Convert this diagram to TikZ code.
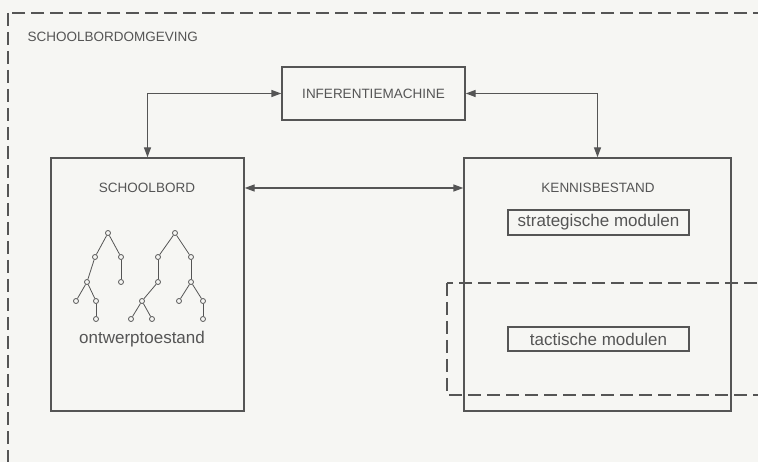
\documentclass[tikz,border=0pt]{standalone}
\usepackage{fontspec}
\setmainfont{Liberation Sans}
\usepackage{tikz}
\usetikzlibrary{arrows.meta, positioning}
\usepackage{xcolor}
\definecolor{inkt}{HTML}{555555}
\definecolor{papier}{HTML}{F6F6F3}

\tikzset{
  blok/.style={draw=inkt, line width=1.4pt, rectangle, inner sep=0pt},
  kop/.style={text=inkt, font=\fontsize{13.5}{15}\selectfont},
  tekst/.style={text=inkt, font=\fontsize{17}{19}\selectfont},
  knoop/.style={draw=inkt, circle, line width=0.8pt, minimum size=5pt, inner sep=0pt},
  pijl/.style={draw=inkt, line width=1.4pt, {Triangle[length=10pt,width=7pt]}-{Triangle[length=10pt,width=7pt]}},
  stippel/.style={draw=inkt, line width=1.2pt, dash pattern=on 13pt off 6pt}
}

\begin{document}
\begin{tikzpicture}[x=1pt, y=-1pt]
  \useasboundingbox (0,0) rectangle (758,462);
  \fill[papier] (0,0) rectangle (758,462);
  \clip (0,0) rectangle (758,462);

  % omgeving
  \draw[stippel] (8,13) rectangle (775,480);
  \node[kop, anchor=west] (omg) at (24,37) {SCHOOLBORDOMGEVING};

  % blokken
  \node[blok, minimum width=183pt, minimum height=53pt] (machine) at (373.5,93.5) {};
  \node[kop] at (machine) {INFERENTIEMACHINE};
  \node[blok, minimum width=193pt, minimum height=253pt] (bord) at (147.5,284.5) {};
  \node[blok, minimum width=267pt, minimum height=253pt] (kennis) at (597.5,284.5) {};
  \node[kop] (bordkop) at (147,188) {SCHOOLBORD};
  \node[kop] (kenniskop) at (598,188) {KENNISBESTAND};
  \node[blok, line width=1.1pt, minimum width=181pt, minimum height=25pt, tekst] (strat) at (598.5,222.5) {strategische modulen};
  \node[blok, line width=1.1pt, minimum width=181pt, minimum height=24pt, tekst] (tact) at (598.5,339) {tactische modulen};
  \draw[stippel] (447,283) rectangle (775,395);

  % verbindingen
  \draw[pijl] (bord.north) |- (machine.west);
  \draw[pijl] (machine.east) -| (kennis.north);
  \draw[pijl] (bord.east |- bordkop) -- (kennis.west |- bordkop);

  % ontwerptoestand: twee bomen
  \foreach \n/\x/\y in {a1/108/233, a2/95/257, a3/121/257, a4/87/282, a5/121/282,
                        a6/76/301, a7/96/301, a8/96/319,
                        b1/175/233, b2/158/257, b3/191/257, b4/158/282, b5/191/282,
                        b6/142/301, b7/131/319, b8/152/319, b9/179/301, b10/203/301, b11/203/319}
    \node[knoop] (\n) at (\x,\y) {};
  \foreach \u/\v in {a1/a2, a1/a3, a2/a4, a3/a5, a4/a6, a4/a7, a7/a8,
                     b1/b2, b1/b3, b2/b4, b3/b5, b4/b6, b6/b7, b6/b8, b5/b9, b5/b10, b10/b11}
    \draw[inkt, line width=0.8pt] (\u) -- (\v);
  \node[tekst] (toestand) at (142,339) {ontwerptoestand};
\end{tikzpicture}
\end{document}
